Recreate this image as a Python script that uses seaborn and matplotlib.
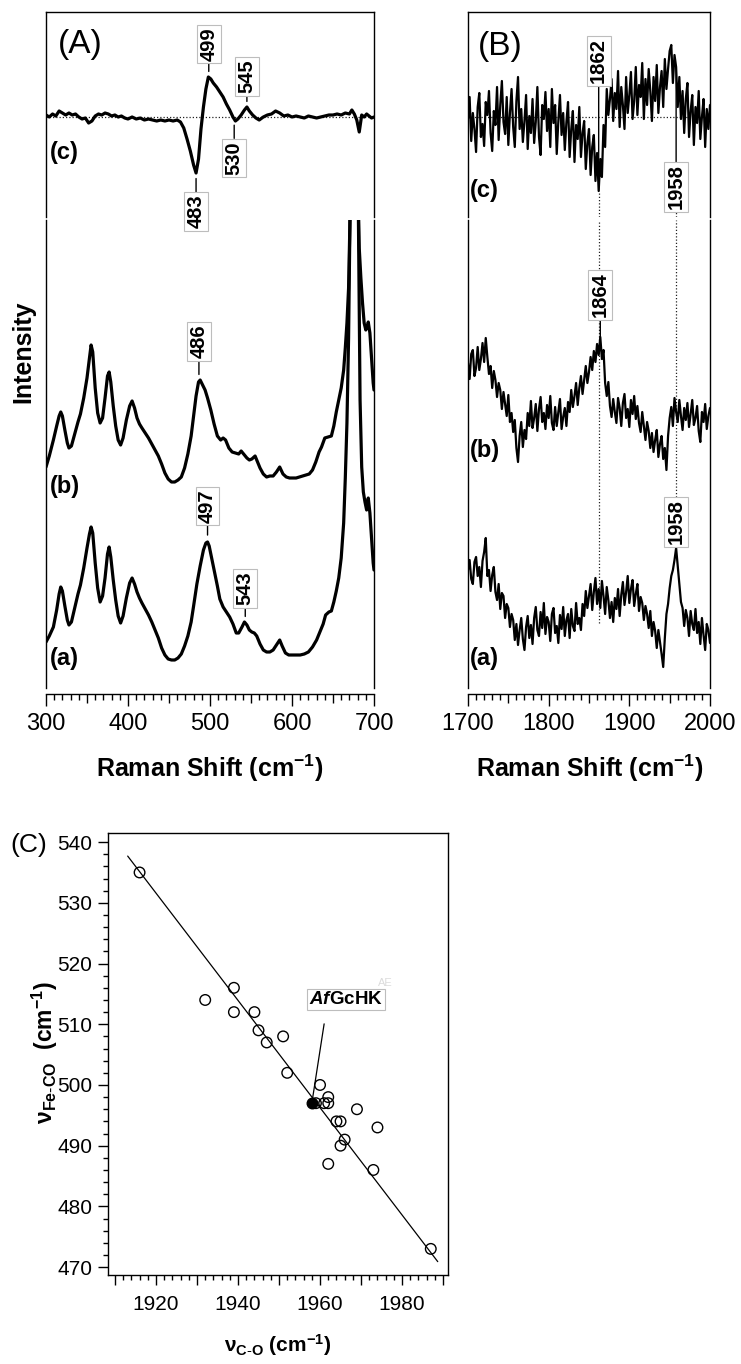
import numpy as np
import pandas as pd
import matplotlib
matplotlib.use("Agg")
import matplotlib.pyplot as plt
from matplotlib.ticker import MultipleLocator, FuncFormatter
from matplotlib import font_manager
import seaborn as sns

# ---------------------------------------------------------------- data
# Panel A : low-frequency resonance Raman spectra (arbitrary intensity units)
a_c_shift = [300,304,308,312,316,320,324,328,332,336,340,344,348,352,356,360,364,368,372,376,
             380,384,388,392,396,400,405,410,415,420,425,430,435,440,445,450,455,460,464,468,
             472,476,480,483,486,489,492,495,498,501,504,508,512,516,520,524,528,531,534,538,
             542,545,548,552,556,560,565,570,575,580,585,590,595,600,605,610,615,620,625,630,
             635,640,645,650,655,660,665,670,673,676,679,682,685,688,691,694,697,700]
a_c_int = [102,100,103,101,106,104,102,104,102,103,100,98,99,94,96,101,103,102,104,103,
           101,102,100,101,99,98,100,98,99,97,98,97,96,97,96,97,96,97,95,89,
           78,66,52,44,58,88,110,128,140,138,134,130,125,120,113,107,100,96,98,102,
           107,110,106,102,99,97,100,102,103,106,104,101,102,100,101,100,99,101,100,99,
           100,101,102,102,103,102,104,103,107,103,97,85,102,100,103,101,99,100]

a_b_shift = [300,304,309,313,316,318,320,323,326,328,331,335,339,342,346,350,353,355,357,360,
             363,366,369,372,375,377,379,382,385,388,391,394,398,402,405,408,411,414,417,421,
             425,429,433,437,441,445,449,453,457,461,465,469,473,477,480,483,486,488,491,494,
             497,501,505,509,513,516,519,523,527,531,535,538,541,545,548,551,555,558,561,565,
             569,573,577,581,585,589,593,597,601,605,609,613,617,621,625,629,633,636,640,644,
             648,651,654,657,660,663,665,667,669,671,674,678,680,682,684,686,688,690,692,693,
             695,697,699,700]
a_b_int = [221,232,248,262,272,276,272,258,245,240,242,254,266,274,290,310,330,343,336,300,
           275,265,270,290,312,316,306,282,262,248,243,250,268,282,287,280,270,264,260,255,
           250,244,238,232,224,215,209,206,206,208,211,220,234,252,272,292,306,308,303,298,
           290,278,264,252,248,250,248,240,236,235,234,237,234,230,228,229,232,226,220,214,
           211,212,212,216,221,214,211,210,210,210,211,212,213,214,218,226,236,241,250,251,
           252,262,276,288,300,318,340,365,400,480,700,700,520,440,410,385,365,358,362,366,
           355,330,305,298]

a_a_shift = [300,304,309,313,316,318,320,323,326,328,331,335,339,342,346,350,353,355,357,360,
             363,366,369,372,375,377,379,382,385,388,391,394,398,402,405,408,411,414,417,421,
             425,429,433,437,441,445,449,453,457,461,465,469,473,477,480,484,488,492,495,497,
             499,502,505,509,512,516,520,524,528,532,535,539,542,545,548,551,554,557,561,565,
             569,573,577,581,585,588,592,596,600,605,610,615,620,625,630,634,638,641,645,648,
             651,654,657,660,663,665,667,669,672,676,680,683,685,687,689,691,693,695,697,699,
             700]
a_a_int = [46,52,61,78,94,101,97,82,68,63,66,80,94,103,120,140,154,161,155,125,
           100,86,92,110,134,141,131,108,88,72,65,72,90,105,110,104,96,90,85,79,
           73,66,58,50,40,33,29,28,28,30,34,42,52,66,82,104,122,138,145,146,
           142,130,118,102,89,81,76,71,64,55,55,61,66,63,58,56,55,52,44,38,
           36,36,38,43,48,42,35,33,33,33,33,34,36,41,48,56,64,73,76,77,
           86,97,110,130,165,210,265,350,560,800,560,288,221,196,186,178,190,175,150,125,
           118]

# Panel B : high-frequency spectra, 1700-2000 cm-1 every 2 cm-1
b_shift = np.arange(1700, 2001, 2)
b_c_int = [98,120,76,104,88,65,110,124,80,93, 71,115,102,126,84,66,106,92,130,77,
           112,136,95,83,120,72,104,128,90,70, 116,140,88,108,75,96,122,68,101,84,
           118,74,95,130,80,62,112,98,125,86, 108,70,128,94,112,63,96,122,82,104,
           67,95,115,60,88,106,55,92,78,110, 60,84,96,48,74,88,42,70,82,36,
           64,26,58,40,92,70,128,102,118,138, 96,124,108,146,90,130,112,88,140,104,
           122,145,98,116,150,102,132,120,154,98, 138,112,148,126,96,140,116,152,104,130,
           146,110,158,128,148,166,172,134,162,150, 110,140,98,126,84,118,134,80,106,122,
           72,110,94,126,78,100,118,70,108,88, 112]
b_b_int = [325,309,334,338,312,320,341,318,329,345, 326,350,331,314,322,300,317,308,291,305,
           298,279,296,284,272,293,266,275,256,268, 240,226,252,266,241,258,249,275,262,287,
           260,270,284,257,279,291,266,275,259,283, 270,292,265,258,281,262,276,289,259,271,
           280,262,286,276,298,281,292,305,283,300, 312,294,308,322,305,316,331,318,337,326,
           344,333,351,329,338,305,292,306,282,271, 289,276,265,290,280,262,285,294,270,279,
           261,288,274,292,269,282,265,256,276,262, 248,266,257,240,255,236,248,258,231,244,
           252,229,240,218,252,270,281,262,290,276, 266,288,272,258,280,268,285,261,274,288,
           263,270,282,257,246,276,266,284,259,272, 280]
b_a_int = [118,128,109,104,126,131,112,121,101,127, 136,150,112,118,97,113,121,96,88,104,
           79,95,92,70,84,80,61,74,68,48, 64,43,58,70,49,38,61,72,50,63,
           44,70,81,58,52,76,60,85,54,71, 66,47,74,80,55,62,45,73,59,81,
           52,68,74,50,79,62,57,85,64,70, 58,84,72,97,80,92,104,78,96,110,
           84,99,80,107,92,74,101,88,70,86, 66,90,79,99,72,93,106,83,96,112,
           85,99,108,82,94,104,77,91,85,68, 82,74,60,77,52,66,57,40,58,46,
           34,21,50,74,84,100,112,118,128,140, 122,104,86,80,62,78,70,52,77,64,
           58,79,55,66,44,70,53,38,64,58, 45]

# Panel C : nu(Fe-CO) vs nu(C-O) correlation
nu_co = [1916,1932,1939,1939,1944,1945,1947,1951,1952,1960,1959,1961,
         1962,1962,1964,1965,1965,1966,1962,1969,1974,1973,1987]
nu_feco = [535,514,516,512,512,509,507,508,502,500,497,497,
           498,497,494,494,490,491,487,496,493,486,473]
afgchk_co = [1958]
afgchk_feco = [497]
fit_co = [1913.1, 1988.7]
fit_feco = [537.7, 470.9]

# ---------------------------------------------------------------- style
avail = {f.name for f in font_manager.fontManager.ttflist}
SANS = "Liberation Sans" if "Liberation Sans" in avail else "DejaVu Sans"
NARROW = "Liberation Sans Narrow" if "Liberation Sans Narrow" in avail else SANS
HAS_NARROW = NARROW != SANS

sns.set_theme(style="ticks")
plt.rcParams["font.family"] = [SANS, "DejaVu Sans"]
rc = {"mathtext.fontset": "custom", "mathtext.rm": SANS, "mathtext.bf": SANS + ":bold",
      "mathtext.it": SANS + ":italic", "axes.linewidth": 1.0, "axes.edgecolor": "black",
      "xtick.color": "black", "ytick.color": "black", "text.color": "black"}
plt.rcParams.update(rc)
HAS_BFIT = "mathtext.bfit" in plt.rcParams
if HAS_BFIT:
    plt.rcParams["mathtext.bfit"] = SANS + ":italic:bold"

W, H = 741, 1364
fig = plt.figure(figsize=(W / 100, H / 100), dpi=100)


def px_axes(x0, y0, x1, y1):
    ax = fig.add_axes([x0 / W, 1 - y1 / H, (x1 - x0) / W, (y1 - y0) / H])
    ax.patch.set_alpha(0)
    return ax


axAc = px_axes(46, 12, 374, 217)
axAab = px_axes(46, 220, 374, 688)
axBc = px_axes(468, 12, 710, 217)
axBab = px_axes(468, 220, 710, 688)
axC = px_axes(108, 833, 448, 1275)


def trace(ax, x, y, lw):
    sns.lineplot(x=np.asarray(x, float), y=np.asarray(y, float), ax=ax, color="black",
                 linewidth=lw, estimator=None, sort=False, errorbar=None, legend=False,
                 zorder=3)
    ax.set_xlabel("")
    ax.set_ylabel("")


def style_top(ax, xlim):
    ax.set_xlim(xlim)
    ax.set_ylim(0, 205)
    ax.spines["bottom"].set_visible(False)
    ax.tick_params(bottom=False, labelbottom=False, left=False, labelleft=False)


def style_bottom(ax, xlim):
    ax.set_xlim(xlim)
    ax.set_ylim(0, 468)
    ax.spines["top"].set_visible(False)
    ax.spines["bottom"].set_position(("outward", 4.5))
    ax.tick_params(left=False, labelleft=False)
    ax.xaxis.set_major_locator(MultipleLocator(50))
    ax.xaxis.set_minor_locator(MultipleLocator(10))
    ax.xaxis.set_major_formatter(
        FuncFormatter(lambda v, p: f"{v:.0f}" if round(v) % 100 == 0 else ""))
    ax.tick_params(axis="x", which="major", direction="out", length=8.5, width=1.0,
                   pad=5, labelsize=17)
    ax.tick_params(axis="x", which="minor", direction="out", length=4.3, width=1.0)


def tag(ax, text, x, y_anchor, y_text, shrinkB=3):
    ax.annotate(text, xy=(x, y_anchor), xytext=(x, y_text), textcoords="data",
                rotation=90, ha="center", va="center", fontsize=14.5, fontweight="bold",
                bbox=dict(boxstyle="square,pad=0.12", fc="white", ec="#bdbdbd", lw=0.8),
                arrowprops=dict(arrowstyle="-", color="black", lw=1.0, shrinkA=0,
                                shrinkB=shrinkB),
                annotation_clip=False, zorder=6)


dot = dict(color="#222222", lw=0.9, linestyle=(0, (1, 1.6)), zorder=1)

# ---------------------------------------------------------------- panel A
style_top(axAc, (300, 700))
style_bottom(axAab, (300, 700))
axAc.hlines(100, 300, 700, **dot)
trace(axAc, a_c_shift, a_c_int, 2.3)
trace(axAab, a_b_shift, a_b_int, 2.3)
trace(axAab, a_a_shift, a_a_int, 2.3)
style_top(axAc, (300, 700))
style_bottom(axAab, (300, 700))

tag(axAc, "499", 498.5, 140, 173, 4)
tag(axAc, "545", 545, 110, 140.5, 4)
tag(axAc, "483", 483, 44, 5.5, 4)
tag(axAc, "530", 529.5, 96, 59, 3)
tag(axAab, "486", 486.5, 308, 346.5, 4)
tag(axAab, "497", 497, 146, 182, 5)
tag(axAab, "543", 543, 66, 99.5, 4)

axAc.text(314.6, 172, "(A)", fontsize=24, ha="left", va="center")
for ax, yy, lab in [(axAc, 65, "(c)"), (axAab, 201, "(b)"), (axAab, 30, "(a)")]:
    ax.text(304.9, yy, lab, fontsize=17, fontweight="bold", ha="left", va="center")

# ---------------------------------------------------------------- panel B
style_top(axBc, (1700, 2000))
style_bottom(axBab, (1700, 2000))
axBc.hlines(100, 1700, 2000, **dot)
axBc.vlines(1863, 0, 26, **dot)
axBc.vlines(1958, 0, 5, **dot)
axBab.vlines(1863, 65, 468, **dot)
axBab.vlines(1958, 191, 468, **dot)
trace(axBc, b_shift, b_c_int, 1.6)
trace(axBab, b_shift, b_b_int, 1.6)
trace(axBab, b_shift, b_a_int, 1.6)
style_top(axBc, (1700, 2000))
style_bottom(axBab, (1700, 2000))

tag(axBc, "1862", 1862, 26, 156, 0)
tag(axBc, "1958", 1958, 150, 30, 0)
tag(axBab, "1864", 1864, 351, 393, 0)
tag(axBab, "1958", 1958, 140, 166, 0)

axBc.text(1712, 170, "(B)", fontsize=24, ha="left", va="center")
for ax, yy, lab in [(axBc, 27, "(c)"), (axBab, 238, "(b)"), (axBab, 30, "(a)")]:
    ax.text(1702.5, yy, lab, fontsize=17, fontweight="bold", ha="left", va="center")

fig.text(23 / W, 1 - 352 / H, "Intensity", rotation=90, ha="center", va="center",
         fontsize=18, fontweight="bold")
for xc in (210, 589.5):
    fig.text(xc / W, 1 - 768 / H, r"Raman Shift (cm$^{\mathbf{-1}}$)", ha="center",
             va="center", fontsize=18, fontweight="bold")

# ---------------------------------------------------------------- panel C
sns.lineplot(x=fit_co, y=fit_feco, ax=axC, color="black", linewidth=0.9,
             estimator=None, sort=False, errorbar=None, legend=False)
sns.scatterplot(x=nu_co, y=nu_feco, ax=axC, s=58, marker="o", legend=False, zorder=4)
coll = axC.collections[-1]
coll.set_facecolor("none")
coll.set_edgecolor("black")
coll.set_linewidth(1.0)
sns.scatterplot(x=afgchk_co, y=afgchk_feco, ax=axC, s=58, marker="o", color="black",
                edgecolor="black", linewidth=1.0, legend=False, zorder=5)
axC.set_xlabel("")
axC.set_ylabel("")
axC.set_xlim(1908.3, 1991.2)
axC.set_ylim(468.7, 541.5)
axC.xaxis.set_major_locator(MultipleLocator(10))
axC.xaxis.set_minor_locator(MultipleLocator(2))
axC.xaxis.set_major_formatter(
    FuncFormatter(lambda v, p: f"{v:.0f}" if round(v) % 20 == 0 else ""))
axC.yaxis.set_major_locator(MultipleLocator(10))
axC.yaxis.set_minor_locator(MultipleLocator(2))
axC.yaxis.set_major_formatter(FuncFormatter(lambda v, p: f"{v:.0f}"))
tick_fs = 16 if HAS_NARROW else 15
axC.tick_params(axis="both", which="major", direction="out", length=7.5, width=1.0,
                labelsize=tick_fs, labelfontfamily=NARROW)
axC.tick_params(axis="both", which="minor", direction="out", length=3.8, width=1.0)
axC.tick_params(axis="x", which="major", pad=7)
axC.tick_params(axis="y", which="major", pad=4)

lab_txt = r"$\mathbfit{Af}$GcHK" if HAS_BFIT else r"$\mathit{Af}$GcHK"
axC.annotate(lab_txt, xy=(1958, 497), xytext=(1966.3, 514.1), ha="center", va="center",
             fontsize=15.5 if HAS_NARROW else 13.5, fontweight="bold", family=NARROW,
             bbox=dict(boxstyle="square,pad=0.1", fc="white", ec="#bdbdbd", lw=0.8),
             arrowprops=dict(arrowstyle="-", color="black", lw=0.9, relpos=(0.24, 0),
                             shrinkA=10, shrinkB=4), zorder=6)
axC.text(1975.9, 516.8, "AE", fontsize=8, color="#dcdcdc", ha="center", va="center")

fig.text(277.5 / W, 1 - 1345 / H, r"ν$_{\mathbf{C\text{-}O}}$ (cm$^{\mathbf{-1}}$)",
         ha="center", va="center", fontsize=15, fontweight="bold", family=NARROW)
fig.text(45 / W, 1 - 1053 / H, r"ν$_{\mathbf{Fe\text{-}CO}}$  (cm$^{\mathbf{-1}}$)",
         rotation=90, ha="center", va="center", fontsize=16.5, fontweight="bold",
         family=NARROW)
fig.text(10 / W, 1 - 845 / H, "(C)", fontsize=19, ha="left", va="center")


# medium-length ticks at the 50 cm-1 positions
def medium_ticks(ax):
    for t, loc in zip(ax.xaxis.get_major_ticks(), ax.xaxis.get_majorticklocs()):
        if round(loc) % 100 != 0:
            t.tick1line.set_markersize(6.3)


fig.canvas.draw()
medium_ticks(axAab)
medium_ticks(axBab)

fig.savefig("out.png", dpi=100)
